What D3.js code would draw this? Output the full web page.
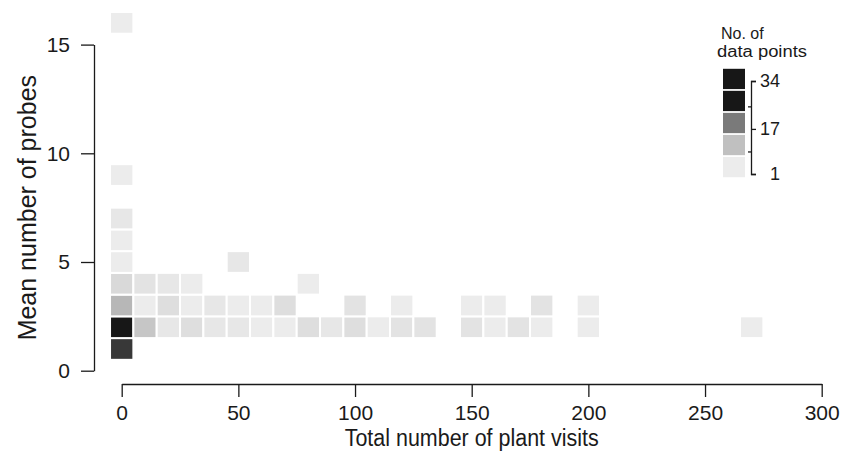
<!DOCTYPE html>
<html>
<head>
<meta charset="utf-8">
<script src="https://cdnjs.cloudflare.com/ajax/libs/d3/7.8.5/d3.min.js"></script>
<style>
    body { margin: 0; background: #fff; }
    text { font-family: "Liberation Sans", Arial, Helvetica, sans-serif; fill: #1a1a1a; }
    .axis path, .axis line { stroke: #1a1a1a; stroke-width: 1.3; }
</style>
</head>
<body>
<div id="chart"></div>
<script>
// bin centres (x = plant visits, y = mean probes) and number of data points per bin
const binX = [0, 0, 0, 0, 0, 0, 0, 0, 0,
    10, 10, 10, 20, 20, 20, 30, 30, 30, 40, 40,
    50, 50, 50, 60, 60, 70, 70, 80, 80, 90,
    100, 100, 110, 120, 120, 130, 150, 150, 160, 160,
    170, 180, 180, 200, 200, 270];
const binY = [1, 2, 3, 4, 5, 6, 7, 9, 16,
    2, 3, 4, 2, 3, 4, 2, 3, 4, 2, 3,
    2, 3, 5, 2, 3, 2, 3, 2, 4, 2,
    2, 3, 2, 2, 3, 2, 2, 3, 2, 3,
    2, 2, 3, 2, 3, 2];
const binCount = [23, 34, 10, 5, 1, 1, 2, 1, 1,
    8, 1, 3, 2, 4, 2, 4, 1, 1, 2, 2,
    2, 1, 2, 1, 1, 1, 4, 4, 1, 2,
    4, 3, 1, 3, 1, 3, 3, 1, 1, 1,
    3, 1, 3, 1, 1, 1];

const xTicks = [0, 50, 100, 150, 200, 250, 300];
const yTicks = [0, 5, 10, 15];
const legendLevels = [34, 26, 17, 9, 1];
const legendLabels = [34, 17, 1];
const legendMinor = [9, 25];

const width = 856, height = 465;

var svg = d3.select("#chart").append("svg")
    .attr("width", width)
    .attr("height", height);

var x = d3.scaleLinear().domain([0, 300]).range([121.7, 821.7]);
var y = d3.scaleLinear().domain([0, 15]).range([370.7, 44.6]);

// grey ramp, saturates near the top
var color = d3.scaleLinear()
    .domain([1, 5, 9, 17, 26, 34])
    .range(["#ececec", "#d9d9d9", "#c0c0c0", "#7a7a7a", "#171717", "#171717"]);

let cells = binX.map((d, i) => ({ x: d, y: binY[i], n: binCount[i] }));

let bw = x(10) - x(0);
let bh = y(0) - y(1);

svg.append("g")
    .selectAll("rect")
    .data(cells)
    .enter()
    .append("rect")
    .attr("x", d => x(d.x - 5))
    .attr("y", d => y(d.y + 0.5))
    .attr("width", bw)
    .attr("height", bh)
    .attr("fill", d => color(d.n))
    .attr("stroke", "#fff")
    .attr("stroke-width", 2);

// x axis, detached below the plot
var xAxis = d3.axisBottom(x).tickValues(xTicks).tickSize(13).tickSizeOuter(0).tickPadding(8);
var gx = svg.append("g")
    .attr("class", "axis")
    .attr("transform", "translate(0,384)")
    .call(xAxis);
gx.selectAll("text").style("font-size", "21px");

// y axis, detached to the left
var yAxis = d3.axisLeft(y).tickValues(yTicks).tickSize(13).tickSizeOuter(0).tickPadding(11);
var gy = svg.append("g")
    .attr("class", "axis")
    .attr("transform", "translate(94,0)")
    .call(yAxis);
gy.selectAll("text").style("font-size", "21px");

// the titles are set a little condensed, like the original
svg.append("text")
    .attr("x", (x(0) + x(300)) / 2)
    .attr("y", 446)
    .attr("text-anchor", "middle")
    .attr("textLength", 254)
    .attr("lengthAdjust", "spacingAndGlyphs")
    .style("font-size", "23px")
    .text("Total number of plant visits");

svg.append("text")
    .attr("transform", "translate(36," + ((y(0) + y(15)) / 2) + ") rotate(-90)")
    .attr("text-anchor", "middle")
    .style("font-size", "25px")
    .text("Mean number of probes");

// legend
var lg = svg.append("g");

lg.append("text").attr("x", 721).attr("y", 39).style("font-size", "16px").text("No. of");
lg.append("text").attr("x", 717).attr("y", 57).style("font-size", "16px")
    .attr("textLength", 90).attr("lengthAdjust", "spacingAndGlyphs")
    .text("data points");

var ly = d3.scaleBand().domain(legendLevels).range([68.8, 177.2]).paddingInner(0.08);

lg.selectAll("rect")
    .data(legendLevels)
    .enter()
    .append("rect")
    .attr("x", 723)
    .attr("y", d => ly(d))
    .attr("width", 22)
    .attr("height", ly.bandwidth())
    .attr("fill", d => color(d));

var ls = d3.scaleLinear().domain([1, 34]).range([174, 81]);

var lAxis = d3.axisRight(ls).tickValues(legendLabels).tickSize(5).tickSizeOuter(5).tickPadding(4);
var gl = lg.append("g")
    .attr("class", "axis")
    .attr("transform", "translate(751,0)")
    .call(lAxis);
gl.selectAll("text")
    .attr("x", 29)
    .attr("text-anchor", "end")
    .style("font-size", "18px");

lg.append("g")
    .attr("class", "axis")
    .attr("transform", "translate(751,0)")
    .call(d3.axisLeft(ls).tickValues(legendMinor).tickSize(3).tickFormat(""))
    .select(".domain").remove();
</script>
</body>
</html>
